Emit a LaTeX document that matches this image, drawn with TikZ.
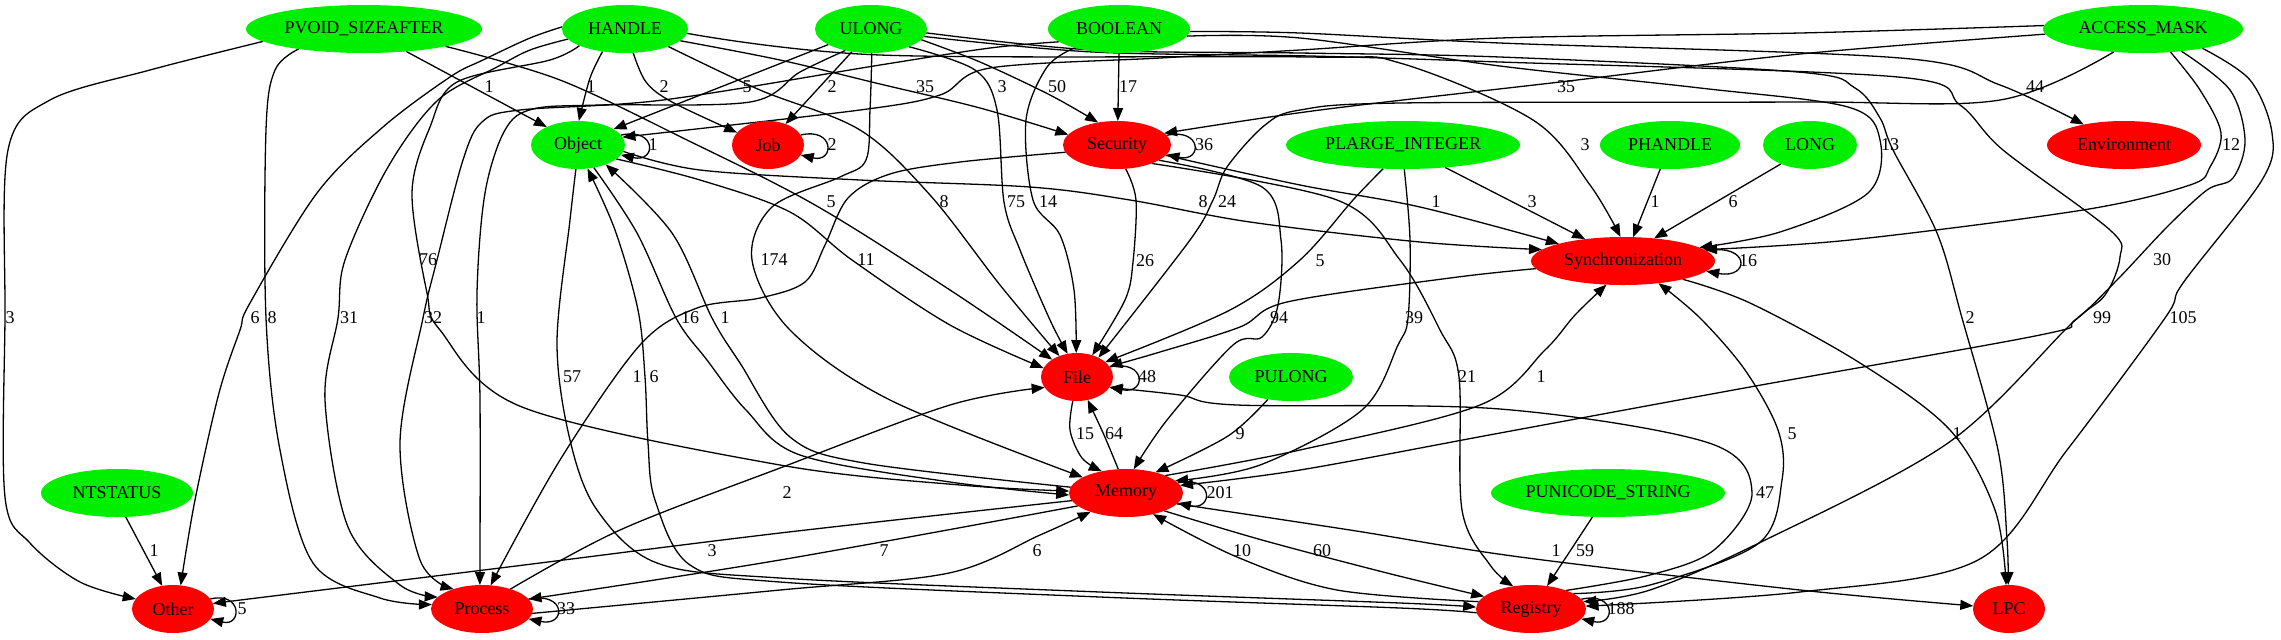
\documentclass[tikz,border=0pt]{standalone}
\usepackage{fontspec}
\setmainfont{Liberation Serif}
\usetikzlibrary{shapes.geometric,arrows.meta}
\pgfdeclarelayer{bg}
\pgfdeclarelayer{edges}
\pgfsetlayers{bg,edges,main}
\definecolor{vgreen}{RGB}{0,238,0}
\definecolor{vred}{RGB}{255,0,0}
\tikzset{
 nd/.style={ellipse, draw=none, inner sep=0pt, outer sep=0pt, minimum height=24pt, font=\fontsize{9}{10}\selectfont},
 gn/.style={nd, fill=vgreen},
 rn/.style={nd, fill=vred},
 lb/.style={inner sep=0pt, font=\fontsize{9}{10}\selectfont},
 e/.style={draw=black, line width=0.65pt, -{Triangle[length=6.5pt,width=5pt]}},
 sm/.style={smooth, tension=0.55},
}
\begin{document}
\begin{tikzpicture}[x=0.5pt,y=-0.5pt]
\begin{pgfonlayer}{bg}
\fill[white] (0,0) rectangle (2281,639);
\end{pgfonlayer}
\useasboundingbox (0,0) rectangle (2281,639);
% nodes
\node[gn, minimum width=118pt] (PV) at (364,29) {PVOID\_SIZEAFTER};
\node[gn, minimum width=63pt] (HA) at (625,29) {HANDLE};
\node[gn, minimum width=56pt] (UL) at (871,29) {ULONG};
\node[gn, minimum width=71pt] (BO) at (1119,29) {BOOLEAN};
\node[gn, minimum width=100pt] (AM) at (2143,29) {ACCESS\_MASK};
\node[gn, minimum width=47pt] (OB) at (578,145) {Object};
\node[rn, minimum width=36pt] (JO) at (768,145) {Job};
\node[rn, minimum width=54pt] (SE) at (1117,145) {Security};
\node[gn, minimum width=117pt] (PL) at (1403,145) {PLARGE\_INTEGER};
\node[gn, minimum width=70pt] (PH) at (1670,145) {PHANDLE};
\node[gn, minimum width=47pt] (LO) at (1810,145) {LONG};
\node[rn, minimum width=77pt] (EN) at (2124,145) {Environment};
\node[rn, minimum width=92pt] (SY) at (1623,261) {Synchronization};
\node[rn, minimum width=36pt] (FI) at (1077,377) {File};
\node[gn, minimum width=62pt] (PU) at (1291,377) {PULONG};
\node[gn, minimum width=76pt] (NT) at (117,493) {NTSTATUS};
\node[rn, minimum width=57pt] (ME) at (1126,493) {Memory};
\node[gn, minimum width=117pt] (PN) at (1608,493) {PUNICODE\_STRING};
\node[rn, minimum width=41pt] (OT) at (173,609) {Other};
\node[rn, minimum width=51pt] (PR) at (482,609) {Process};
\node[rn, minimum width=55pt] (RE) at (1531,609) {Registry};
\node[rn, minimum width=36pt] (LP) at (2009,609) {LPC};

\begin{pgfonlayer}{edges}
% PVOID_SIZEAFTER
\draw[e] (PV.-28) -- (OB.150);
\draw[e] plot[sm] coordinates {(PV.-12) (560,80) (687,140) (815,205) (950,290) (FI.145)};
\draw[e] plot[sm] coordinates {(PV.-173) (150,70) (50,100) (8,150) (5,318) (5,497) (30,543) (80,582) (OT.165)};
\draw[e] plot[sm] coordinates {(PV.-163) (275,70) (266,130) (266,318) (280,450) (313,563) (380,598) (PR.175)};
% HANDLE
\draw[e] plot[sm] coordinates {(HA.-135) (590,78) (OB.88)};
\draw[e] plot[sm] coordinates {(HA.-71) (646,82) (672,102) (JO.158)};
\draw[e] plot[sm] coordinates {(HA.-12) (780,60) (880,84) (980,108) (SE.168)};
\draw[e] plot[sm] coordinates {(HA.-22) (760,90) (860,130) (930,195) (1000,285) (FI.130)};
\draw[e] plot[sm] coordinates {(HA.-160) (550,60) (457,82) (430,127) (412,193) (427,293) (440,330) (522,407) (780,465) (960,485) (ME.178)};
\draw[e] plot[sm] coordinates {(HA.-170) (530,50) (497,67) (438,100) (388,167) (345,260) (338,318) (325,400) (348,527) (400,585) (PR.165)};
\draw[e] plot[sm] coordinates {(HA.178) (530,38) (483,60) (450,77) (383,127) (317,193) (250,303) (240,330) (219,393) (195,500) (OT.72)};
\draw[e] plot[sm] coordinates {(HA.-4) (880,55) (1310,57) (1400,63) (1533,120) (1590,185) (SY.96)};
% ULONG
\draw[e] (UL.-160) -- (OB.24);
\draw[e] (UL.-130) -- (JO.50);
\draw[e] plot[sm] coordinates {(UL.-12) (980,62) (1050,95) (SE.130)};
\draw[e] plot[sm] coordinates {(UL.-25) (975,70) (997,110) (1004,202) (1020,250) (1050,320) (FI.112)};
\draw[e] plot[sm] coordinates {(UL.-88) (870,110) (866,160) (840,177) (772,207) (752,260) (790,330) (890,400) (ME.160)};
\draw[e] plot[sm] coordinates {(UL.-140) (800,72) (750,102) (600,105) (533,109) (505,130) (485,193) (477,293) (480,400) (PR.95)};
\draw[e] plot[sm] coordinates {(UL.-8) (1093,52) (1310,56) (1500,62) (1898,77) (1960,105) (2003,150) (2110,230) (2120,257) (2105,295) (2070,325) (1948,443) (1759,543) (1650,590) (RE.8)};
\draw[e] plot[sm] coordinates {(UL.-4) (1093,50) (1300,53) (1500,57) (1798,72) (1855,88) (1880,118) (1893,150) (1937,233) (1962,318) (1998,450) (2007,540) (LP.92)};
% BOOLEAN
\draw[e] (BO.-90) -- (SE.88);
\draw[e] plot[sm] coordinates {(BO.-157) (1047,67) (1026,120) (1033,200) (1060,235) (1074,290) (FI.92)};
\draw[e] plot[sm] coordinates {(BO.-2) (1300,33) (1500,43) (1900,58) (2000,85) (EN.153)};
\draw[e] plot[sm] coordinates {(BO.-6) (1300,38) (1500,66) (1700,88) (1848,107) (1880,140) (1868,193) (1780,232) (SY.10)};
\draw[e] plot[sm] coordinates {(BO.-168) (990,48) (880,65) (663,100) (520,110) (482,122) (463,160) (437,260) (423,318) (400,443) (420,560) (PR.145)};
% ACCESS_MASK
\draw[e] plot[sm] coordinates {(AM.178) (1800,33) (1500,38) (1300,50) (1160,58) (990,68) (940,95) (860,110) (OB.10)};
\draw[e] plot[sm] coordinates {(AM.-177) (1800,54) (1560,82) (1320,110) (SE.14)};
\draw[e] plot[sm] coordinates {(AM.-142) (2000,100) (1800,102) (1400,103) (1300,110) (1265,125) (1227,167) (1213,200) (1190,240) (FI.42)};
\draw[e] plot[sm] coordinates {(AM.-40) (2200,90) (2221,133) (2210,167) (2190,185) (2083,210) (1850,240) (SY.8)};
\draw[e] plot[sm] coordinates {(AM.-30) (2230,90) (2245,140) (2233,178) (2207,190) (2167,227) (2117,280) (2075,320) (2040,335) (1750,387) (1500,433) (1300,470) (ME.8)};
\draw[e] plot[sm] coordinates {(AM.-18) (2250,80) (2272,133) (2262,180) (2183,283) (2165,318) (2067,450) (1978,560) (1800,592) (RE.3)};
% PLARGE_INTEGER, PHANDLE, LONG
\draw[e] plot[sm] coordinates {(PL.-130) (1353,200) (1300,260) (1230,310) (FI.28)};
\draw[e] plot[sm] coordinates {(PL.-87) (1410,240) (1408,318) (1398,345) (1362,410) (1260,465) (ME.14)};
\draw[e] (PL.-28) -- (SY.150);
\draw[e] (PH.-112) -- (SY.67);
\draw[e] (LO.-147) -- (SY.36);
% Security
\draw[e] plot[sm] coordinates {(SE.-70) (1136,200) (1133,262) (1125,300) (FI.55)};
\draw[e] plot[sm] coordinates {(SE.-20) (1262,187) (1281,240) (1278,305) (1262,337) (1233,345) (1167,420) (ME.72)};
\draw[e] plot[sm] coordinates {(SE.-12) (1300,185) (1420,207) (SY.165)};
\draw[e] plot[sm] coordinates {(SE.-28) (1337,200) (1400,260) (1440,330) (1459,377) (1462,510) (1490,565) (RE.128)};
\draw[e] plot[sm] coordinates {(SE.-172) (960,162) (890,174) (848,198) (825,245) (805,282) (760,298) (697,308) (640,345) (560,460) (PR.70)};
% Object
\draw[e] plot[sm] coordinates {(OB.-20) (700,180) (790,212) (852,260) (950,325) (FI.165)};
\draw[e] plot[sm] coordinates {(OB.-8) (700,170) (860,180) (1030,187) (1130,200) (1250,222) (1420,242) (SY.172)};
\draw[e] plot[sm] coordinates {(OB.-55) (637,233) (676,318) (707,360) (746,410) (800,455) (950,482) (ME.-178)};
\draw[e] plot[sm] coordinates {(OB.-95) (570,220) (557,343) (570,440) (597,510) (657,563) (780,578) (1100,592) (1400,603) (RE.178)};
% Synchronization
\draw[e] plot[sm] coordinates {(SY.-175) (1450,278) (1287,302) (1240,327) (1160,352) (FI.18)};
\draw[e] plot[sm] coordinates {(SY.-17) (1750,303) (1860,363) (1950,430) (1995,510) (LP.97)};
% File
\draw[e] plot[sm] coordinates {(FI.-100) (1070,430) (1082,458) (ME.138)};
% Memory
\draw[e] plot[sm] coordinates {(ME.174) (864,463) (790,437) (740,363) (712,318) (672,233) (OB.-35)};
\draw[e] plot[sm] coordinates {(ME.108) (1104,435) (FI.-65)};
\draw[e] plot[sm] coordinates {(ME.24) (1300,450) (1480,405) (1545,350) (1575,315) (SY.-125)};
\draw[e] plot[sm] coordinates {(ME.-172) (780,533) (500,568) (OT.8)};
\draw[e] plot[sm] coordinates {(ME.-165) (780,560) (PR.12)};
\draw[e] plot[sm] coordinates {(ME.-25) (1262,540) (1387,573) (RE.165)};
\draw[e] plot[sm] coordinates {(ME.-12) (1350,530) (1520,557) (1800,590) (LP.175)};
% Process
\draw[e] plot[sm] coordinates {(PR.-5) (780,590) (949,573) (1040,535) (ME.-152)};
\draw[e] plot[sm] coordinates {(PR.35) (620,530) (780,468) (950,405) (FI.-162)};
% Registry
\draw[e] plot[sm] coordinates {(RE.-176) (1400,608) (1100,597) (780,582) (690,565) (655,500) (648,443) (645,377) (638,310) (615,230) (OB.-68)};
\draw[e] plot[sm] coordinates {(RE.28) (1650,575) (1714,550) (1752,493) (1709,443) (1500,409) (1237,405) (1180,395) (FI.-18)};
\draw[e] plot[sm] coordinates {(RE.20) (1650,585) (1759,543) (1782,480) (1778,430) (1745,370) (1700,318) (SY.-32)};
\draw[e] plot[sm] coordinates {(RE.172) (1337,590) (1237,557) (ME.-38)};
% others
\draw[e] plot[sm] coordinates {(PU.-136) (1228,436) (ME.35)};
\draw[e] (NT.-70) -- (OT.115);
\draw[e] (PN.-123) -- (RE.55);
% self loops
\draw[e] (OB.13) .. controls +(36,-8) and +(36,8) .. (OB.-13);
\draw[e] (JO.17) .. controls +(34,-8) and +(34,8) .. (JO.-17);
\draw[e] (SE.11.5) .. controls +(36,-8) and +(36,8) .. (SE.-11.5);
\draw[e] (SY.7) .. controls +(44,-8) and +(44,8) .. (SY.-7);
\draw[e] (FI.17) .. controls +(37,-8) and +(37,8) .. (FI.-17);
\draw[e] (ME.11) .. controls +(36,-8) and +(36,8) .. (ME.-11);
\draw[e] (OT.15) .. controls +(32,-8) and +(32,8) .. (OT.-15);
\draw[e] (PR.12) .. controls +(38,-8) and +(38,8) .. (PR.-12);
\draw[e] (RE.11.3) .. controls +(35,-8) and +(35,8) .. (RE.-11.3);
\end{pgfonlayer}

% edge labels
\node[lb] (l01) at (489,87) {1};
\node[lb] (l02) at (591,87) {1};
\node[lb] (l03) at (664,87) {2};
\node[lb] (l04) at (747,87) {5};
\node[lb] (l05) at (832,87) {2};
\node[lb] (l06) at (925,87) {35};
\node[lb] (l07) at (1002,87) {3};
\node[lb] (l08) at (1057,87) {50};
\node[lb] (l09) at (1128,87) {17};
\node[lb] (l10) at (1566,87) {35};
\node[lb] (l11) at (2035,87) {44};
\node[lb] (l12) at (653,145) {1};
\node[lb] (l13) at (832,145) {2};
\node[lb] (l14) at (1204,145) {36};
\node[lb] (l15) at (1585,145) {3};
\node[lb] (l16) at (1890,145) {13};
\node[lb] (l17) at (2231,145) {12};
\node[lb] (l18) at (831,202) {5};
\node[lb] (l19) at (944,202) {8};
\node[lb] (l20) at (1016,202) {75};
\node[lb] (l21) at (1048,202) {14};
\node[lb] (l22) at (1203,202) {8};
\node[lb] (l23) at (1227,202) {24};
\node[lb] (l24) at (1436,202) {1};
\node[lb] (l25) at (1532,202) {3};
\node[lb] (l26) at (1655,202) {1};
\node[lb] (l27) at (1733,202) {6};
\node[lb] (l28) at (428,260) {76};
\node[lb] (l29) at (774,260) {174};
\node[lb] (l30) at (866,260) {11};
\node[lb] (l31) at (1145,261) {26};
\node[lb] (l32) at (1320,261) {5};
\node[lb] (l33) at (1748,261) {16};
\node[lb] (l34) at (2162,260) {30};
\node[lb] (l35) at (10,318) {3};
\node[lb] (l36) at (255,318) {6};
\node[lb] (l37) at (272,318) {8};
\node[lb] (l38) at (349,318) {31};
\node[lb] (l39) at (433,318) {32};
\node[lb] (l40) at (481,318) {1};
\node[lb] (l41) at (690,318) {16};
\node[lb] (l42) at (725,318) {1};
\node[lb] (l43) at (1279,318) {94};
\node[lb] (l44) at (1414,318) {39};
\node[lb] (l45) at (1970,318) {2};
\node[lb] (l46) at (2102,318) {99};
\node[lb] (l47) at (2183,318) {105};
\node[lb] (l48) at (572,377) {57};
\node[lb] (l49) at (637,377) {1};
\node[lb] (l50) at (654,377) {6};
\node[lb] (l51) at (1147,377) {48};
\node[lb] (l52) at (1467,377) {21};
\node[lb] (l53) at (1541,377) {1};
\node[lb] (l54) at (1085,434) {15};
\node[lb] (l55) at (1114,434) {64};
\node[lb] (l56) at (1240,434) {9};
\node[lb] (l57) at (1792,434) {5};
\node[lb] (l58) at (1957,434) {1};
\node[lb] (l59) at (787,493) {2};
\node[lb] (l60) at (1220,493) {201};
\node[lb] (l61) at (1765,493) {47};
\node[lb] (l62) at (154,551) {1};
\node[lb] (l63) at (712,551) {3};
\node[lb] (l64) at (884,551) {7};
\node[lb] (l65) at (1037,551) {6};
\node[lb] (l66) at (1242,551) {10};
\node[lb] (l67) at (1322,551) {60};
\node[lb] (l68) at (1556,551) {1};
\node[lb] (l69) at (1585,551) {59};
\node[lb] (l70) at (242,609) {5};
\node[lb] (l71) at (566,609) {33};
\node[lb] (l72) at (1621,609) {188};
\end{tikzpicture}
\end{document}
